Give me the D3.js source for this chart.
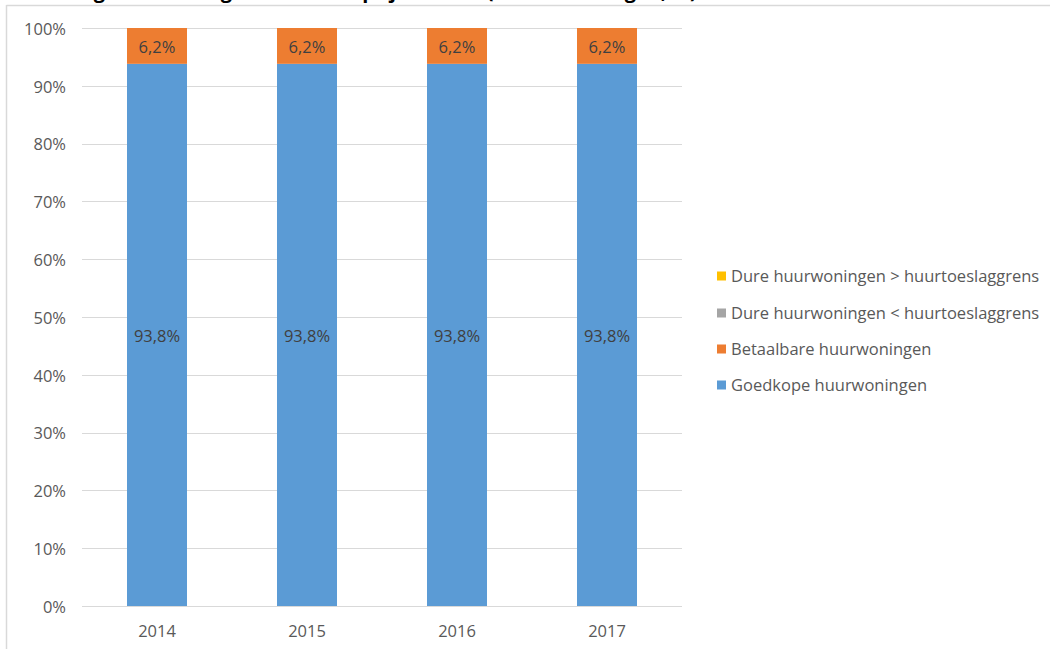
<!DOCTYPE html>
<html><head><meta charset="utf-8">
<script src="https://cdn.jsdelivr.net/npm/d3@7"></script>
<style>body{margin:0;background:#fff;}svg{display:block;}</style>
</head><body>
<svg id="chart" width="1050" height="649"></svg>
<script>
const years = ["2014", "2015", "2016", "2017"];
const goedkope = [93.8, 93.8, 93.8, 93.8];
const betaalbare = [6.2, 6.2, 6.2, 6.2];
const dureOnder = [0, 0, 0, 0];
const dureBoven = [0, 0, 0, 0];
const seriesNames = ["Goedkope huurwoningen", "Betaalbare huurwoningen", "Dure huurwoningen < huurtoeslaggrens", "Dure huurwoningen > huurtoeslaggrens"];
const seriesColors = ["#5B9BD5", "#ED7D31", "#A5A5A5", "#FFC000"];
const yTicks = [0, 10, 20, 30, 40, 50, 60, 70, 80, 90, 100];
const title = "Verdeling huurwoningen naar huurprijsklassen (aantal woningen, %)";

const font = "'Open Sans', 'Liberation Sans', sans-serif";
const fs = 16.5;
const svg = d3.select("#chart");

// clipped title + frame
svg.append("text").attr("x", 10).attr("y", -2.5).attr("font-family", font)
  .attr("font-size", 20).attr("font-weight", "bold").attr("fill", "#000").text(title);
svg.append("rect").attr("x", 0).attr("y", 5).attr("width", 1050).attr("height", 649).attr("fill", "#fff");
svg.append("line").attr("x1", 6.5).attr("x2", 1050).attr("y1", 5.5).attr("y2", 5.5).attr("stroke", "#D9D9D9").attr("stroke-width", 1.5);
svg.append("line").attr("x1", 6.5).attr("x2", 6.5).attr("y1", 5).attr("y2", 649).attr("stroke", "#D9D9D9").attr("stroke-width", 1.5);

const x = d3.scaleBand().domain(years).range([82, 682]).paddingInner(0.6).paddingOuter(0.3);
const y = d3.scaleLinear().domain([0, 100]).range([606, 28]);

// gridlines
svg.append("g").selectAll("line").data(yTicks).join("line")
  .attr("x1", 82).attr("x2", 682)
  .attr("y1", d => Math.round(y(d)) + 0.5).attr("y2", d => Math.round(y(d)) + 0.5)
  .attr("stroke", "#D9D9D9").attr("stroke-width", 1);

// y axis labels
const yAxis = d3.axisLeft(y).tickValues(yTicks).tickFormat(d => d + "%").tickSize(0).tickPadding(0);
const ya = svg.append("g").attr("transform", "translate(66,1)").call(yAxis);
ya.select(".domain").remove();
ya.selectAll("text").attr("font-family", font).attr("font-size", fs).attr("fill", "#595959");

// x axis labels
const xAxis = d3.axisBottom(x).tickSize(0).tickPadding(0);
const xa = svg.append("g").attr("transform", "translate(0,625)").call(xAxis);
xa.select(".domain").remove();
xa.selectAll("text").attr("font-family", font).attr("font-size", fs).attr("fill", "#595959");

// stacked data
const allSeries = [goedkope, betaalbare, dureOnder, dureBoven];
const rows = years.map((yr, i) => {
  const o = { year: yr };
  seriesNames.forEach((n, s) => o[n] = allSeries[s][i]);
  return o;
});
const stacked = d3.stack().keys(seriesNames)(rows);

stacked.forEach((layer, s) => {
  const g = svg.append("g");
  g.selectAll("rect").data(layer).join("rect")
    .attr("x", d => x(d.data.year))
    .attr("width", x.bandwidth())
    .attr("y", d => y(d[1]))
    .attr("height", d => y(d[0]) - y(d[1]))
    .attr("fill", seriesColors[s]);
  g.selectAll("text").data(layer.filter(d => d[1] - d[0] > 0)).join("text")
    .attr("x", d => x(d.data.year) + x.bandwidth() / 2)
    .attr("y", d => y((d[0] + d[1]) / 2) + 1)
    .attr("dy", "0.35em")
    .attr("text-anchor", "middle")
    .attr("font-family", font).attr("font-size", fs).attr("fill", "#404040")
    .text(d => d3.format(".1f")(d[1] - d[0]).replace(".", ",") + "%");
});

// legend (reverse order)
const legendOrder = [3, 2, 1, 0];
const legendY = [276, 313, 349, 385];
const lg = svg.append("g");
legendOrder.forEach((s, i) => {
  lg.append("rect").attr("x", 717).attr("y", legendY[i] - 4.5).attr("width", 9).attr("height", 9).attr("fill", seriesColors[s]);
  lg.append("text").attr("x", 731).attr("y", legendY[i]).attr("dy", "0.35em")
    .attr("font-family", font).attr("font-size", fs).attr("fill", "#595959").text(seriesNames[s]);
});
</script>
</body></html>
